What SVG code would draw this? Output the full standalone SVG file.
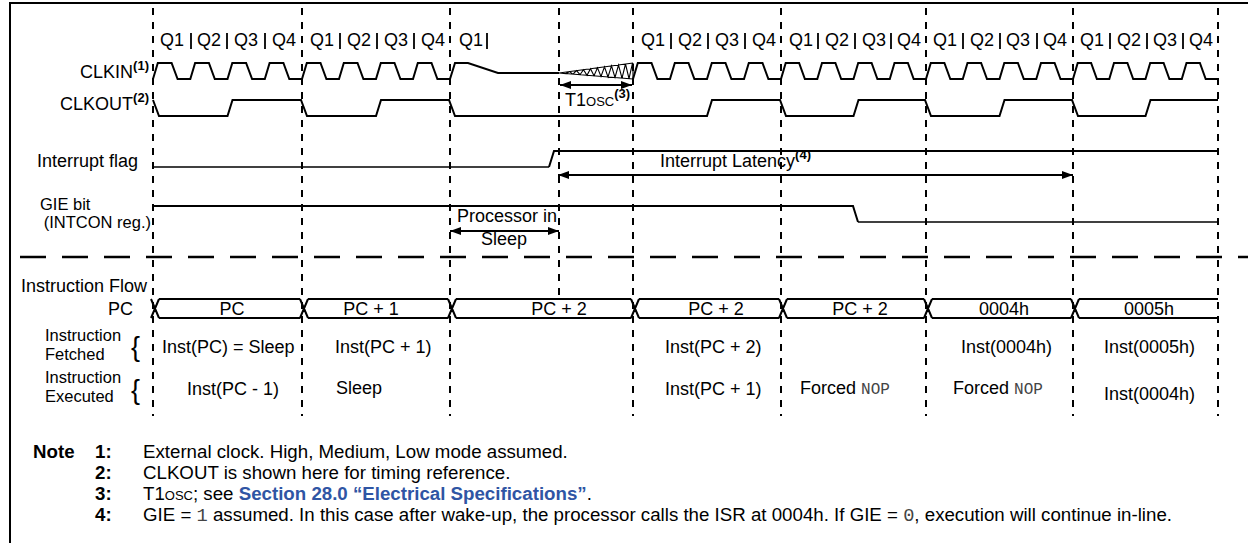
<svg xmlns="http://www.w3.org/2000/svg" width="1248" height="543" viewBox="0 0 1248 543">
<style>
text { font-family: "Liberation Sans", Arial, Helvetica, sans-serif; fill: #000; }
.lbl { font-size: 18px; }
.stk { font-size: 16.5px; }
.sup { font-size: 13px; font-weight: bold; }
.mono { font-family: "Liberation Mono", "Courier New", monospace; fill: #444; }
.note { font-size: 18.7px; }
.nb { font-weight: bold; }
.blue { fill: #2f55a4; font-weight: bold; }
.sc { font-variant: small-caps; }
.w { fill: none; stroke: #000; stroke-width: 2; }
.wt { fill: none; stroke: #000; stroke-width: 1.5; }
.ramp { fill: none; stroke: #000; stroke-width: 1.1; }
.vd { fill: none; stroke: #000; stroke-width: 2; stroke-dasharray: 7 7; }
.hd { fill: none; stroke: #000; stroke-width: 2.5; stroke-dasharray: 26 16; }
.bar { stroke: #000; stroke-width: 1.8; }
.arr { fill: none; stroke: #000; stroke-width: 2; marker-start: url(#ah); marker-end: url(#ah); }
</style>
<defs>
<marker id="ah" viewBox="0 0 11 8" refX="11" refY="4" markerWidth="11" markerHeight="8" markerUnits="userSpaceOnUse" orient="auto-start-reverse">
<path d="M0,0 L11,4 L0,8 z" fill="#000"/>
</marker>
</defs>

<g id="frame">
<path class="w" d="M10,543 L10,3 L1248,3"/>
</g>

<g id="grid">
<path class="vd" d="M153,8 V416 M302,8 V416 M450,8 V416 M633,8 V416 M781,8 V416 M926,8 V416 M1073,8 V416 M1218,8 V416 M559,8 V295"/>
<path class="hd" d="M20,257 H1248"/>
</g>

<g id="q-labels" class="lbl">
<text x="172" y="46" text-anchor="middle">Q1</text>
<text x="209" y="46" text-anchor="middle">Q2</text>
<text x="246" y="46" text-anchor="middle">Q3</text>
<text x="284" y="46" text-anchor="middle">Q4</text>
<text x="322" y="46" text-anchor="middle">Q1</text>
<text x="359" y="46" text-anchor="middle">Q2</text>
<text x="396" y="46" text-anchor="middle">Q3</text>
<text x="433" y="46" text-anchor="middle">Q4</text>
<text x="471" y="46" text-anchor="middle">Q1</text>
<text x="653" y="46" text-anchor="middle">Q1</text>
<text x="690" y="46" text-anchor="middle">Q2</text>
<text x="727" y="46" text-anchor="middle">Q3</text>
<text x="764" y="46" text-anchor="middle">Q4</text>
<text x="801" y="46" text-anchor="middle">Q1</text>
<text x="837" y="46" text-anchor="middle">Q2</text>
<text x="874" y="46" text-anchor="middle">Q3</text>
<text x="909" y="46" text-anchor="middle">Q4</text>
<text x="945" y="46" text-anchor="middle">Q1</text>
<text x="982" y="46" text-anchor="middle">Q2</text>
<text x="1018" y="46" text-anchor="middle">Q3</text>
<text x="1055" y="46" text-anchor="middle">Q4</text>
<text x="1092" y="46" text-anchor="middle">Q1</text>
<text x="1129" y="46" text-anchor="middle">Q2</text>
<text x="1165" y="46" text-anchor="middle">Q3</text>
<text x="1201" y="46" text-anchor="middle">Q4</text>
<path class="bar" d="M191,33 V49 M227,33 V49 M265,33 V49 M340,33 V49 M377,33 V49 M414,33 V49 M487,33 V49 M671,33 V49 M708,33 V49 M745,33 V49 M818,33 V49 M855,33 V49 M891,33 V49 M963,33 V49 M1000,33 V49 M1037,33 V49 M1110,33 V49 M1147,33 V49 M1183,33 V49"/>
</g>

<g id="clkin">
<text class="lbl" x="149" y="78" text-anchor="end">CLKIN<tspan class="sup" dy="-8">(1)</tspan></text>
<path class="w" d="M153,79 L157.8,63 L171.6,63 L177.6,79 L190.3,79 L195.1,63 L208.9,63 L214.8,79 L227.5,79 L232.3,63 L246.1,63 L252.1,79 L264.8,79 L269.6,63 L283.4,63 L289.3,79 L302,79 L306.8,63 L320.5,63 L326.4,79 L339,79 L343.8,63 L357.5,63 L363.4,79 L376,79 L380.8,63 L394.5,63 L400.4,79 L413,79 L417.8,63 L431.5,63 L437.4,79 L450,79 L455,63 L468,63 L498,73 L559,73"/>
<path class="ramp" d="M559,73 L633,63 M559,73 L633,79 M633,63 L633,79 M559,73 L566,73.6 L569.5,71.6 L573,74.1 L576.5,70.6 L580,74.7 L583.5,69.7 L587,75.3 L590.5,68.7 L594,75.8 L597.5,67.8 L601,76.4 L604.5,66.9 L608,77 L611.5,65.9 L615,77.5 L618.5,65 L622,78.1 L625.5,64 L629,78.7 L632.5,63.1"/>
<path class="w" d="M633,79 L637.8,63 L651.5,63 L657.4,79 L670,79 L674.8,63 L688.5,63 L694.4,79 L707,79 L711.8,63 L725.5,63 L731.4,79 L744,79 L748.8,63 L762.5,63 L768.4,79 L781,79 L785.7,63 L799.1,63 L804.9,79 L817.3,79 L822,63 L835.4,63 L841.2,79 L853.5,79 L858.2,63 L871.6,63 L877.4,79 L889.8,79 L894.5,63 L907.9,63 L913.7,79 L926,79 L930.8,63 L944.4,63 L950.3,79 L962.8,79 L967.5,63 L981.1,63 L987,79 L999.5,79 L1004.3,63 L1017.9,63 L1023.8,79 L1036.3,79 L1041,63 L1054.6,63 L1060.5,79 L1073,79 L1077.7,63 L1091.1,63 L1096.9,79 L1109.3,79 L1114,63 L1127.4,63 L1133.2,79 L1145.5,79 L1150.2,63 L1163.6,63 L1169.4,79 L1181.8,79 L1186.5,63 L1199.9,63 L1205.7,79 L1218,79"/>
<text class="lbl" x="565" y="106">T1<tspan class="sc">osc</tspan><tspan class="sup" dy="-8">(3)</tspan></text>
</g>

<g id="clkout">
<text class="lbl" x="149" y="110" text-anchor="end">CLKOUT<tspan class="sup" dy="-8">(2)</tspan></text>
<path class="w" d="M153,100 L159,116 L227.5,116 L232.5,100 L301,100 L307,116 L376,116 L381,100 L449,100 L455,116 L707,116 L712,100 L780,100 L786,116 L853.5,116 L858.5,100 L925,100 L931,116 L999.5,116 L1004.5,100 L1072,100 L1078,116 L1145.5,116 L1150.5,100 L1218,100"/>
</g>

<g id="interrupt-flag">
<text class="lbl" x="37" y="167">Interrupt flag</text>
<path class="wt" d="M153,167 L549,167"/>
<path class="w" d="M549,167 L554,151 L1218,151"/>
<text class="lbl" x="660" y="167">Interrupt Latency<tspan class="sup" dy="-8">(4)</tspan></text>
</g>

<g id="gie">
<text class="stk"><tspan x="40" y="209.5">GIE bit</tspan><tspan x="151" y="228" text-anchor="end">(INTCON reg.)</tspan></text>
<path class="w" d="M153,206 L853,206 L858,222"/>
<path class="wt" d="M858,222 L1218,222"/>
<text class="lbl" text-anchor="middle"><tspan x="507" y="222">Processor in</tspan><tspan x="504" y="245">Sleep</tspan></text>
</g>

<g id="connectors">
<path class="arr" d="M560,85 L632,85"/>
<path class="arr" d="M558,175 L1073,175"/>
<path class="arr" d="M450,231 L559,231"/>
</g>

<g id="instruction-flow">
<text class="lbl" x="147" y="292" text-anchor="end">Instruction Flow</text>
<text class="lbl" x="133" y="315" text-anchor="end">PC</text>
<path class="w" d="M151,299 L159,318 M151,318 L159,299 M159,299 H300 M159,318 H300 M300,299 L308,318 M300,318 L308,299 M308,299 H448 M308,318 H448 M448,299 L456,318 M448,318 L456,299 M456,299 H631 M456,318 H631 M631,299 L639,318 M631,318 L639,299 M639,299 H779 M639,318 H779 M779,299 L787,318 M779,318 L787,299 M787,299 H924 M787,318 H924 M924,299 L932,318 M924,318 L932,299 M932,299 H1071 M932,318 H1071 M1071,299 L1079,318 M1071,318 L1079,299 M1079,299 H1218 M1079,318 H1218"/>
<g class="lbl" text-anchor="middle">
<text x="232" y="315">PC</text>
<text x="371" y="315">PC + 1</text>
<text x="559" y="315">PC + 2</text>
<text x="716" y="315">PC + 2</text>
<text x="860" y="315">PC + 2</text>
<text x="1004" y="315">0004h</text>
<text x="1149" y="315">0005h</text>
</g>
</g>

<g id="fetched">
<text class="stk"><tspan x="45" y="341">Instruction</tspan><tspan x="45" y="359.5">Fetched</tspan></text>
<text x="131" y="356" style="font-size:27px">{</text>
<text class="lbl" x="162" y="353">Inst(PC) = Sleep</text>
<text class="lbl" x="335" y="353">Inst(PC + 1)</text>
<text class="lbl" x="665" y="353">Inst(PC + 2)</text>
<text class="lbl" x="961" y="353">Inst(0004h)</text>
<text class="lbl" x="1104" y="353">Inst(0005h)</text>
</g>

<g id="executed">
<text class="stk"><tspan x="45" y="383">Instruction</tspan><tspan x="45" y="401.5">Executed</tspan></text>
<text x="131" y="399" style="font-size:27px">{</text>
<text class="lbl" x="187" y="395">Inst(PC - 1)</text>
<text class="lbl" x="336" y="394">Sleep</text>
<text class="lbl" x="665" y="395">Inst(PC + 1)</text>
<text class="lbl" x="800" y="394">Forced <tspan class="mono" style="font-size:16px">NOP</tspan></text>
<text class="lbl" x="953" y="394">Forced <tspan class="mono" style="font-size:16px">NOP</tspan></text>
<text class="lbl" x="1104" y="400">Inst(0004h)</text>
</g>

<g id="notes" class="note">
<text class="nb" x="33" y="458">Note</text>
<text class="nb" x="95" y="458">1:</text>
<text x="143" y="458">External clock. High, Medium, Low mode assumed.</text>
<text class="nb" x="95" y="479">2:</text>
<text x="143" y="479">CLKOUT is shown here for timing reference.</text>
<text class="nb" x="95" y="500">3:</text>
<text x="143" y="500">T1<tspan class="sc">osc</tspan>; see <tspan class="blue">Section 28.0 “Electrical Specifications”</tspan>.</text>
<text class="nb" x="95" y="521">4:</text>
<text x="143" y="521">GIE = <tspan class="mono">1</tspan> assumed. In this case after wake-up, the processor calls the ISR at 0004h. If GIE = <tspan class="mono">0</tspan>, execution will continue in-line.</text>
</g>
</svg>
